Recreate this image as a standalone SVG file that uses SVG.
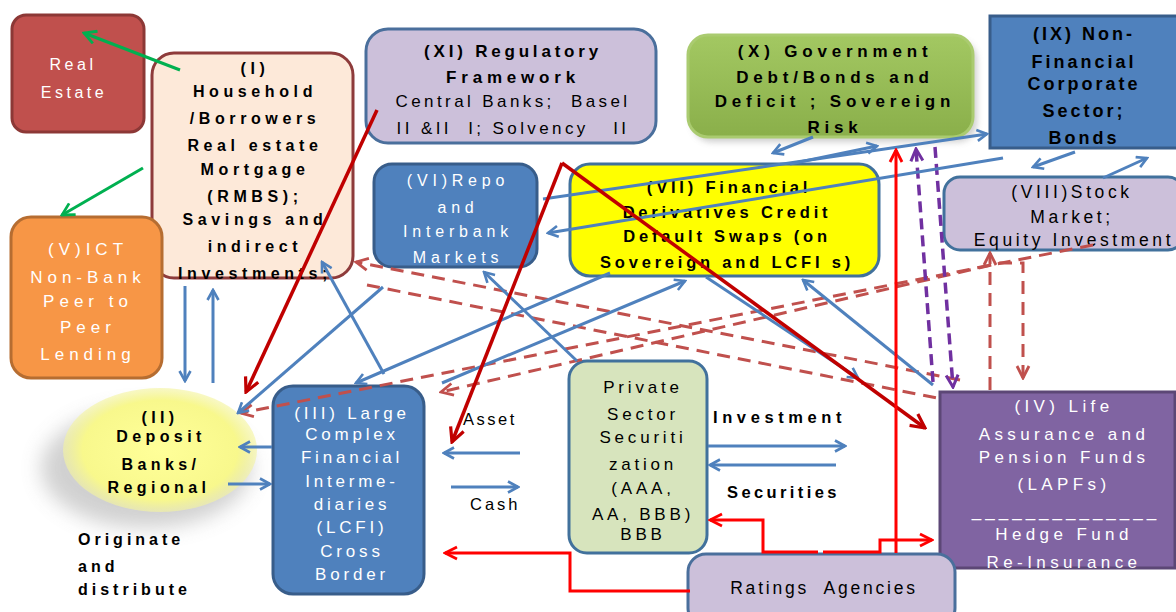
<svg xmlns="http://www.w3.org/2000/svg" width="1176" height="612" viewBox="0 0 1176 612">
<defs>
<style>
.t{font-family:"Liberation Sans",Arial,sans-serif;white-space:pre;text-anchor:middle;fill:#000}
.l{font-family:"Liberation Sans",Arial,sans-serif;white-space:pre;text-anchor:start;fill:#000}
.b{font-weight:bold}
.w{fill:#fff}
.nb{fill:#4F81BD;stroke:#385D8A;stroke-width:3}
.lav{fill:#CCC0DA;stroke:#4A6F9C;stroke-width:3}
.cb{fill:none;stroke:#4F81BD;stroke-width:3}
.cg{fill:none;stroke:#00B050;stroke-width:3}
.cdr{fill:none;stroke:#C00000;stroke-width:3.5}
.cr{fill:none;stroke:#FF0000;stroke-width:3}
.cp{fill:none;stroke:#7030A0;stroke-width:3.5;stroke-dasharray:11 6}
.cd{fill:none;stroke:#C0504D;stroke-width:3;stroke-dasharray:13 8}
</style>
<linearGradient id="gG" x1="0" y1="0" x2="0" y2="1"><stop offset="0" stop-color="#A3C862"/><stop offset="1" stop-color="#8AAF4A"/></linearGradient>
<radialGradient id="gY" cx="0.5" cy="0.5" r="0.5"><stop offset="0" stop-color="#FFFF99"/><stop offset="0.8" stop-color="#F8F88C"/><stop offset="1" stop-color="#F4F4A0" stop-opacity="0.6"/></radialGradient>
<filter id="blur" x="-50%" y="-50%" width="200%" height="200%"><feGaussianBlur stdDeviation="10"/></filter>
<filter id="sblur" x="-20%" y="-20%" width="140%" height="140%"><feGaussianBlur stdDeviation="3"/></filter>
<marker id="mB" viewBox="0 0 14 14" refX="12" refY="7" markerWidth="14" markerHeight="14" markerUnits="userSpaceOnUse" orient="auto-start-reverse"><path d="M2,1.5 L12,7 L2,12.5" fill="none" stroke="#4F81BD" stroke-width="2.6"/></marker>
<marker id="mG" viewBox="0 0 16 16" refX="14" refY="8" markerWidth="16" markerHeight="16" markerUnits="userSpaceOnUse" orient="auto-start-reverse"><path d="M2,1.5 L14,8 L2,14.5" fill="none" stroke="#00B050" stroke-width="2.8"/></marker>
<marker id="mDR" viewBox="0 0 18 18" refX="16" refY="9" markerWidth="18" markerHeight="18" markerUnits="userSpaceOnUse" orient="auto-start-reverse"><path d="M2,2 L16,9 L2,16" fill="none" stroke="#C00000" stroke-width="3.2"/></marker>
<marker id="mR" viewBox="0 0 16 16" refX="14" refY="8" markerWidth="16" markerHeight="16" markerUnits="userSpaceOnUse" orient="auto-start-reverse"><path d="M2,2 L14,8 L2,14" fill="none" stroke="#FF0000" stroke-width="2.8"/></marker>
<marker id="mD" viewBox="0 0 16 16" refX="14" refY="8" markerWidth="16" markerHeight="16" markerUnits="userSpaceOnUse" orient="auto-start-reverse"><path d="M2,2 L14,8 L2,14" fill="none" stroke="#C0504D" stroke-width="2.8"/></marker>
<marker id="mP" viewBox="0 0 16 16" refX="14" refY="8" markerWidth="16" markerHeight="16" markerUnits="userSpaceOnUse" orient="auto-start-reverse"><path d="M2,2 L14,8 L2,14" fill="none" stroke="#7030A0" stroke-width="3"/></marker>
</defs>
<rect width="1176" height="612" fill="#fff"/>

<g id="real-estate">
<rect x="12" y="15" width="132" height="117" rx="14" fill="#C0504D" stroke="#8C3836" stroke-width="3"/>
<text class="t w" font-size="16" letter-spacing="3.5" x="73" y="70">Real</text>
<text class="t w" font-size="16" letter-spacing="3.5" x="74" y="98">Estate</text>
</g>

<g id="household">
<rect x="152" y="53" width="201" height="225" rx="22" fill="#FDE9D9" stroke="#8E3B3B" stroke-width="3"/>
<g class="t b" font-size="16" letter-spacing="4.6">
<text x="255" y="74">(I)</text>
<text x="255" y="97">Household</text>
<text x="255" y="124">/Borrowers</text>
<text x="255" y="151">Real estate</text>
<text x="255" y="175">Mortgage</text>
<text x="255" y="202">(RMBS);</text>
<text x="255" y="225">Savings  and</text>
<text x="255" y="252">indirect</text>
<text x="255" y="279">Investments;</text>
</g>
</g>

<g id="regulatory">
<rect class="lav" x="366" y="29" width="290" height="114" rx="22"/>
<text class="t b" font-size="17" letter-spacing="3.8" x="513" y="57">(XI) Regulatory</text>
<text class="t b" font-size="17" letter-spacing="4.8" x="513" y="83">Framework</text>
<text class="t" font-size="17" letter-spacing="3.4" x="513" y="107">Central Banks;  Basel</text>
<text class="t" font-size="17" letter-spacing="3.4" x="513" y="134">II &amp;II  I; Solvency   II</text>
</g>

<g id="government">
<rect x="692" y="40" width="285" height="102" rx="20" fill="#888" opacity="0.4" filter="url(#sblur)"/>
<rect x="688" y="35" width="285" height="102" rx="20" fill="url(#gG)" stroke="#AACB70" stroke-width="3"/>
<g class="t b" font-size="17" letter-spacing="4.8">
<text x="835" y="57">(X) Government</text>
<text x="835" y="83">Debt/Bonds and</text>
<text x="835" y="107">Deficit ; Sovereign</text>
<text x="835" y="133">Risk</text>
</g>
</g>

<g id="non-financial">
<rect class="nb" x="990" y="16" width="190" height="132"/>
<g class="t b" font-size="18" letter-spacing="3">
<text x="1084" y="40">(IX) Non-</text>
<text x="1084" y="68">Financial</text>
<text x="1084" y="90">Corporate</text>
<text x="1084" y="117">Sector;</text>
<text x="1084" y="144">Bonds</text>
</g>
</g>

<g id="repo">
<rect class="nb" x="374" y="164" width="163" height="103" rx="18"/>
<g class="t w" font-size="16" letter-spacing="4.8">
<text x="458" y="186">(VI)Repo</text>
<text x="458" y="213">and</text>
<text x="458" y="237">Interbank</text>
<text x="458" y="263">Markets</text>
</g>
</g>

<g id="derivatives">
<rect x="570" y="164" width="309" height="112" rx="20" fill="#FFFF00" stroke="#41719C" stroke-width="3"/>
<g class="t b" font-size="16.5" letter-spacing="3.8">
<text x="729" y="193">(VII) Financial</text>
<text x="727" y="218">Derivatives   Credit</text>
<text x="727" y="242">Default  Swaps  (on</text>
<text x="727" y="268">Sovereign   and LCFI  s)</text>
</g>
</g>

<g id="stock">
<rect x="944" y="177" width="240" height="73" rx="16" fill="#CCC0DA" stroke="#41719C" stroke-width="3"/>
<g class="t" font-size="17.5" letter-spacing="3.6">
<text x="1072" y="198">(VIII)Stock</text>
<text x="1072" y="223">Market;</text>
<text x="1074" y="246">Equity Investment</text>
</g>
</g>

<g id="ict">
<rect x="11" y="217" width="151" height="161" rx="20" fill="#F79646" stroke="#B66D31" stroke-width="3"/>
<g class="t w" font-size="17" letter-spacing="5">
<text x="88" y="255">(V)ICT</text>
<text x="88" y="283">Non-Bank</text>
<text x="88" y="307">Peer to</text>
<text x="88" y="333">Peer</text>
<text x="88" y="360">Lending</text>
</g>
</g>

<g id="deposit-banks">
<ellipse cx="146" cy="468" rx="105" ry="60" fill="#999" opacity="0.45" filter="url(#blur)"/>
<ellipse cx="160" cy="450" rx="97" ry="62" fill="url(#gY)"/>
<g class="t b" font-size="16" letter-spacing="4.4">
<text x="160" y="423">(II)</text>
<text x="161" y="442">Deposit</text>
<text x="161" y="470">Banks/</text>
<text x="159" y="493">Regional</text>
</g>
</g>

<g id="originate">
<g class="l b" font-size="16" letter-spacing="4">
<text x="78" y="545">Originate</text>
<text x="78" y="572">and</text>
<text x="78" y="595">distribute</text>
</g>
</g>

<g id="lcfi">
<rect class="nb" x="273" y="386" width="151" height="208" rx="20"/>
<g class="t w" font-size="17" letter-spacing="3.8">
<text x="352" y="419">(III) Large</text>
<text x="352" y="440">Complex</text>
<text x="352" y="463">Financial</text>
<text x="352" y="487">Interme-</text>
<text x="352" y="510">diaries</text>
<text x="352" y="533">(LCFI)</text>
<text x="352" y="557">Cross</text>
<text x="352" y="580">Border</text>
</g>
</g>

<g id="securitization">
<rect x="569" y="361" width="138" height="192" rx="18" fill="#D7E4BD" stroke="#41719C" stroke-width="3"/>
<g class="t" font-size="17" letter-spacing="3.8">
<text x="643" y="393">Private</text>
<text x="643" y="420">Sector</text>
<text x="643" y="443">Securiti</text>
<text x="643" y="470">zation</text>
<text x="643" y="494">(AAA,</text>
<text x="643" y="520">AA, BBB)</text>
<text x="643" y="540">BBB</text>
</g>
</g>

<g id="life-assurance">
<rect x="940" y="392" width="235" height="176" fill="#8064A2" stroke="#5C4776" stroke-width="3"/>
<g class="t w" font-size="17" letter-spacing="4.4">
<text x="1064" y="412">(IV) Life</text>
<text x="1064" y="440">Assurance and</text>
<text x="1064" y="463">Pension Funds</text>
<text x="1064" y="490">(LAPFs)</text>
<text x="1066" y="517" letter-spacing="4">______________</text>
<text x="1064" y="540">Hedge  Fund</text>
<text x="1064" y="568">Re-Insurance</text>
</g>
</g>

<g id="ratings">
<rect class="lav" x="688" y="554" width="267" height="72" rx="18"/>
<text class="t" font-size="17.5" letter-spacing="2.8" x="824" y="594">Ratings  Agencies</text>
</g>

<g id="labels">
<text class="l" font-size="16.5" letter-spacing="2.5" x="463" y="425">Asset</text>
<text class="l" font-size="16.5" letter-spacing="3" x="470" y="510">Cash</text>
<text class="l b" font-size="16.5" letter-spacing="4.6" x="713" y="423">Investment</text>
<text class="l b" font-size="16.5" letter-spacing="3.4" x="727" y="498">Securities</text>
</g>

<g id="connectors">
<path class="cd" d="M960,380 L356,262" marker-end="url(#mD)"/>
<path class="cd" d="M367,285 L937,398"/>
<path class="cd" d="M1093,245 L241,413" marker-end="url(#mD)"/>
<path class="cd" d="M1023,378 L1023,263 L1000,263 L441,392" marker-start="url(#mD)" marker-end="url(#mD)"/>
<path class="cd" d="M990,390 L990,253" marker-end="url(#mD)"/>
<path class="cp" d="M933,382 L916,149" marker-end="url(#mP)"/>
<path class="cp" d="M935,147 L953,387" marker-end="url(#mP)"/>
<path class="cg" d="M180,70 L84,33" marker-end="url(#mG)"/>
<path class="cg" d="M143,168 L62,215" marker-end="url(#mG)"/>
<path class="cb" d="M185,286 L185,381" marker-end="url(#mB)"/>
<path class="cb" d="M213,383 L213,290" marker-end="url(#mB)"/>
<path class="cb" d="M272,447 L240,447" marker-end="url(#mB)"/>
<path class="cb" d="M228,484 L270,484" marker-end="url(#mB)"/>
<path class="cb" d="M520,453 L444,453" marker-end="url(#mB)"/>
<path class="cb" d="M451,487 L518,487" marker-end="url(#mB)"/>
<path class="cb" d="M708,446 L845,446" marker-end="url(#mB)"/>
<path class="cb" d="M836,465 L710,465" marker-end="url(#mB)"/>
<path class="cb" d="M384,374 L322,262" marker-end="url(#mB)"/>
<path class="cb" d="M383,287 L238,413" marker-end="url(#mB)"/>
<path class="cb" d="M610,273 L356,383" marker-end="url(#mB)"/>
<path class="cb" d="M442,383 L685,281" marker-end="url(#mB)"/>
<path class="cb" d="M577,361 L484,272" marker-end="url(#mB)"/>
<path class="cb" d="M543,199 L987,134" marker-end="url(#mB)"/>
<path class="cb" d="M1003,158 L548,233" marker-end="url(#mB)"/>
<path class="cb" d="M933,385 L803,280" marker-end="url(#mB)"/>
<path class="cb" d="M813,137 L773,153" marker-end="url(#mB)"/>
<path class="cb" d="M790,164 L877,146" marker-end="url(#mB)"/>
<path class="cb" d="M1075,152 L1033,167" marker-end="url(#mB)"/>
<path class="cb" d="M1103,178 L1147,158" marker-end="url(#mB)"/>
<path class="cb" d="M706,277 L858,378" marker-end="url(#mB)"/>
<path class="cdr" d="M377,110 L246,392" marker-end="url(#mDR)"/>
<path class="cdr" d="M562,163 L452,442" marker-end="url(#mDR)"/>
<path class="cdr" d="M562,163 L925,428" marker-end="url(#mDR)"/>
<path class="cr" d="M896,553 L896,150" marker-end="url(#mR)"/>
<path class="cr" d="M818,552 L763,552 L763,520 L710,520" marker-end="url(#mR)"/>
<path class="cr" d="M823,552 L880,552 L880,540 L932,540" marker-end="url(#mR)"/>
<path class="cr" d="M690,591 L570,591 L570,553 L445,553" marker-end="url(#mR)"/>
</g>
</svg>
